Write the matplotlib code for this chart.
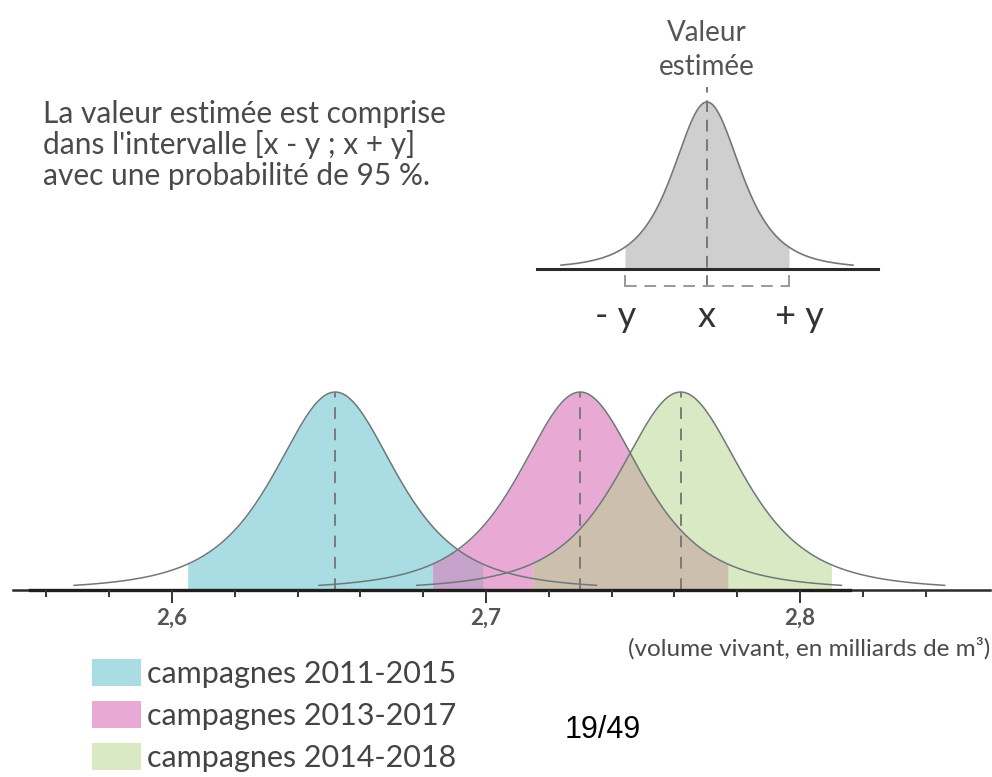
import numpy as np
import matplotlib
matplotlib.use('Agg')
import matplotlib.pyplot as plt
from matplotlib.patches import Patch

plt.rcParams['font.family'] = ['Lato', 'DejaVu Sans']

# --- values ---
labels = ['campagnes 2011-2015', 'campagnes 2013-2017', 'campagnes 2014-2018']
centres = [2.652, 2.730, 2.762]
lower = [2.605, 2.683, 2.715]
upper = [2.699, 2.777, 2.810]
fills = ['#a9dce3', '#e8a9d4', '#d9e9c3']
overlap_pairs = [(0, 1), (1, 2)]
overlap_fills = ['#c6a3cb', '#cdbfae']

major_ticks = [2.6, 2.7, 2.8]
tick_labels = ['2,6', '2,7', '2,8']
minor_ticks = [2.56, 2.58, 2.62, 2.64, 2.66, 2.68, 2.72, 2.74, 2.76, 2.78,
               2.82, 2.84]

# schematic curve in the top right ("x" and "y")
inset_centre = 0.0
inset_half = 1.0
inset_labels = ['- y', 'x', '+ y']

line_col = '#6f7878'
text_col = '#4a4a4a'


def bell(x, c, half):
    # bell shape, 95 % interval at c +/- half
    z = (x - c) / half * 2.3
    return (1 + z ** 2 / 3) ** -2


W, H = 992, 777
fig = plt.figure(figsize=(W / 100, H / 100), dpi=100)

# --- main chart ---
ax = fig.add_axes([0, 0, 1, 1])
px = 3140.0  # pixels per unit on the x axis
x0 = 2.6 - 172 / px
ax.set_xlim(x0, x0 + W / px)
ax.set_ylim(-(H - 590) / 198, 590 / 198)
ax.axis('off')

curves = []
for c, lo, hi in zip(centres, lower, upper):
    half = (hi - lo) / 2
    curves.append((c, half))

for (c, half), lo, hi, col in zip(curves, lower, upper, fills):
    xf = np.linspace(lo, hi, 300)
    ax.fill_between(xf, 0, bell(xf, c, half), color=col, lw=0, zorder=1)

for (i, j), col in zip(overlap_pairs, overlap_fills):
    lo = max(lower[i], lower[j])
    hi = min(upper[i], upper[j])
    xo = np.linspace(lo, hi, 200)
    yo = np.minimum(bell(xo, *curves[i]), bell(xo, *curves[j]))
    ax.fill_between(xo, 0, yo, color=col, lw=0, zorder=2)

for c, half in curves:
    xs = np.linspace(c - 1.77 * half, c + 1.77 * half, 400)
    ax.plot(xs, bell(xs, c, half), color=line_col, lw=1.1, zorder=3)
    ax.plot([c, c], [0, 1], color='#7a7a7a', lw=1.4, dashes=(6, 5), zorder=3)

# axis line and ticks
ax.plot([x0 + 13 / px, x0 + 990 / px], [0, 0], color='#2a2a2a', lw=1.8, zorder=4)
ax.plot([x0 + 30 / px, x0 + 850 / px], [0, 0], color='#1e1e1e', lw=2.4, zorder=4)
ax.vlines(minor_ticks, -7 / 198, 0, color='#333333', lw=1.4, zorder=4)
ax.vlines(major_ticks, -13 / 198, 0, color='#333333', lw=1.4, zorder=4)
for t, lab in zip(major_ticks, tick_labels):
    ax.text(t, -28 / 198, lab, ha='center', va='center', fontsize=16,
            color='#555555', fontweight='bold')

fig.text(990 / W, 1 - 648 / H, '(volume vivant, en milliards de m³)',
         ha='right', va='center', fontsize=17.5, color=text_col)

handles = [Patch(facecolor=c, edgecolor='none', label=l) for c, l in zip(fills, labels)]
fig.legend(handles=handles, loc='upper left', bbox_to_anchor=(92 / W, 1 - 659 / H),
           frameon=False, fontsize=22, handlelength=1.6, handleheight=1.0,
           handletextpad=0.2, labelspacing=0.42, borderpad=0, borderaxespad=0,
           labelcolor='#444444')

fig.text(603 / W, 1 - 730 / H, '19/49', ha='center', va='center', fontsize=22,
         family='Liberation Sans', color='black')

# --- schematic in the top right ---
ax2 = fig.add_axes([0, 0, 1, 1])
ax2.set_xlim(-707 / 82, (W - 707) / 82)
ax2.set_ylim(-(H - 269) / 167, 269 / 167)
ax2.axis('off')

xf = np.linspace(inset_centre - inset_half, inset_centre + inset_half, 300)
ax2.fill_between(xf, 0, bell(xf, inset_centre, inset_half), color='#cfcfcf', lw=0)
xs = np.linspace(inset_centre - 1.78 * inset_half, inset_centre + 1.78 * inset_half, 400)
ax2.plot(xs, bell(xs, inset_centre, inset_half), color='#777777', lw=1.2)
ax2.plot([-170 / 82, 171 / 82], [0, 0], color='#2a2a2a', lw=2.2)

# dashed centre line and bracket under the interval
ax2.plot([inset_centre, inset_centre], [-0.11, 1.09], color='#777777', lw=1.4,
         dashes=(6, 4))
ax2.plot([inset_centre - inset_half, inset_centre + inset_half], [-0.1, -0.1],
         color='#999999', lw=1.4, dashes=(6, 4))
for xe in (inset_centre - inset_half, inset_centre + inset_half):
    ax2.plot([xe, xe], [-0.04, -0.1], color='#999999', lw=1.4)

for xl, lab in zip([inset_centre - 1.12 * inset_half, inset_centre,
                    inset_centre + 1.13 * inset_half], inset_labels):
    ax2.text(xl, -58 / 167, lab, ha='center', va='baseline', fontsize=26,
             color='#333333')

ax2.text(inset_centre, (269 - 50) / 167, 'Valeur\nestimée', ha='center',
         va='center', fontsize=20, color='#555555', linespacing=1.35)

fig.text(43 / W, 1 - 100 / H,
         "La valeur estimée est comprise\ndans l'intervalle [x - y ; x + y]\n"
         "avec une probabilité de 95 %.",
         ha='left', va='top', fontsize=21.5, color=text_col, linespacing=1.1)

fig.savefig('out.png', dpi=100)
